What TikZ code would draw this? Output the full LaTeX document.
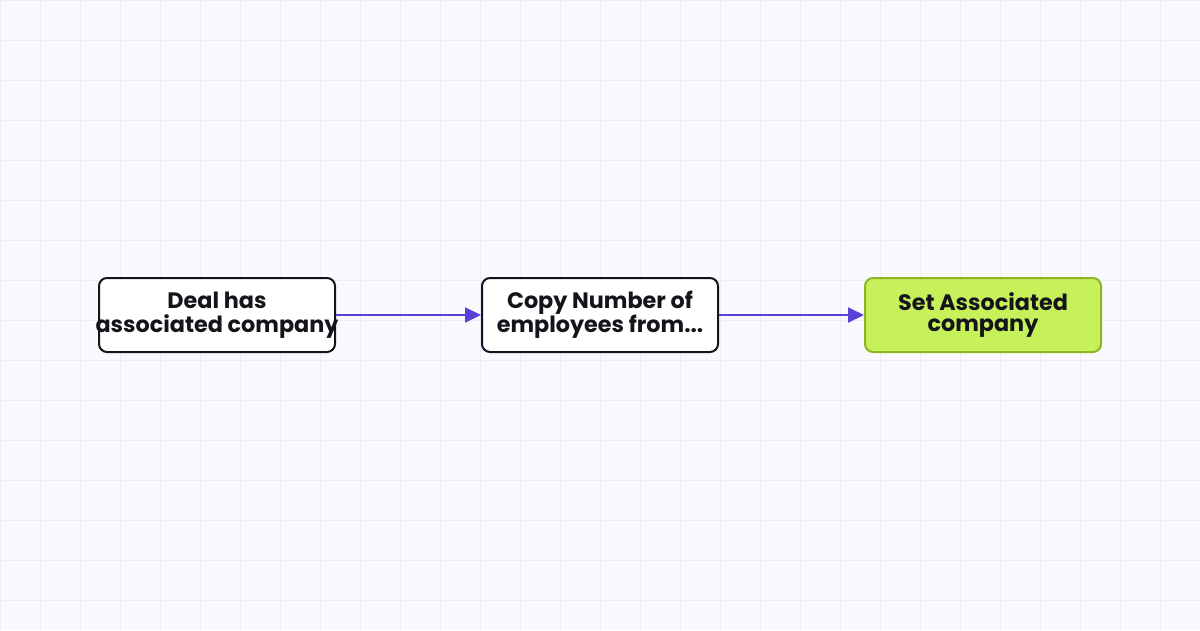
\documentclass[tikz,border=0pt]{standalone}
\usepackage{fontspec}
\setmainfont{Poppins}
\usepackage{tikz}
\usetikzlibrary{arrows.meta}
\definecolor{paper}{HTML}{FAFAFE}
\definecolor{gridline}{HTML}{EEECF9}
\definecolor{flow}{HTML}{5B3FD9}
\definecolor{ink}{HTML}{14141A}
\definecolor{lime}{HTML}{C7F15A}
\definecolor{limeborder}{HTML}{8DB526}
\newcommand{\steptext}[2]{\makebox[0pt]{\begin{tabular}{@{}c@{}}#1\\#2\end{tabular}}}
\begin{document}
\begin{tikzpicture}
[every node/.style={inner sep=0pt},
 stepbox/.style={rectangle, rounded corners=8pt, minimum width=236pt, minimum height=74pt, line width=2pt, font=\fontsize{22.3}{21}\selectfont\bfseries, text=ink},
 link/.style={line width=2pt, color=flow, -{Triangle[length=16pt, width=15pt]}}]
\useasboundingbox (0pt, 0pt) rectangle (1200pt, -630pt);
\fill [paper] (0pt, 0pt) rectangle (1200pt, -630pt);
\draw [gridline, line width=1pt, step=40pt] (0pt, -630pt) grid (1200pt, 0pt);
\node (deal) [stepbox, fill=white, draw=ink] at (217pt, -315pt) {\steptext{Deal has}{associated company}};
\node (copy) [stepbox, fill=white, draw=ink] at (600pt, -315pt) {\steptext{Copy Number of}{employees from...}};
\node (set) [stepbox, fill=lime, draw=limeborder] at (983pt, -315pt) {\steptext{Set Associated}{company}};
\draw [link] (deal) to (copy);
\draw [link] (copy) to (set);
\end{tikzpicture}
\end{document}
